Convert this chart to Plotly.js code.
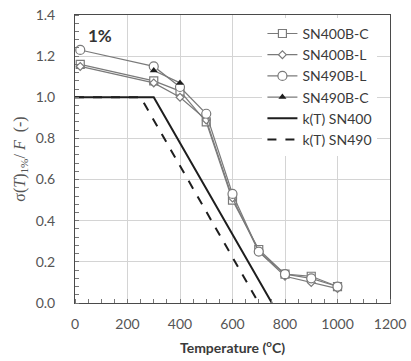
<!DOCTYPE html>
<html>
<head>
<meta charset="utf-8">
<script src="https://cdn.plot.ly/plotly-3.0.1.min.js"></script>
<style>
  html, body { margin: 0; padding: 0; background: #ffffff; }
  #chart { width: 411px; height: 361px; }
</style>
</head>
<body>
<div id="chart"></div>
<script>
// Normalised 1% proof stress versus temperature
const temps = [20, 300, 400, 500, 600, 700, 800, 900, 1000];
const sn400bC = [1.16, 1.08, 1.03, 0.88, 0.50, 0.26, 0.14, 0.13, 0.08];
const sn400bL = [1.15, 1.07, 1.00, 0.89, 0.51, 0.25, 0.13, 0.10, 0.07];
const sn490bL = [1.23, 1.15, 1.05, 0.92, 0.53, 0.25, 0.14, 0.12, 0.08];
const temps490C = [300, 400];
const sn490bC = [1.13, 1.07];

// Design reduction factor k(T)
const kTempSN400 = [0, 300, 750];
const kSN400 = [1.0, 1.0, 0.0];
const kTempSN490 = [0, 250, 700];
const kSN490 = [1.0, 1.0, 0.0];

const xTicks = [0, 200, 400, 600, 800, 1000, 1200];
const yTicks = [0.0, 0.2, 0.4, 0.6, 0.8, 1.0, 1.2, 1.4];

const grey = '#7a7a7a';
const dark = '#1e1e1e';

const traces = [
  {
    name: 'SN400B-C', x: temps, y: sn400bC, mode: 'lines+markers',
    line: {color: grey, width: 1.2},
    marker: {symbol: 'square', size: 8, color: '#ffffff', line: {color: grey, width: 1.2}}
  },
  {
    name: 'SN400B-L', x: temps, y: sn400bL, mode: 'lines+markers',
    line: {color: grey, width: 1.2},
    marker: {symbol: 'diamond', size: 6, color: '#ffffff', line: {color: grey, width: 1.2}}
  },
  {
    name: 'SN490B-L', x: temps, y: sn490bL, mode: 'lines+markers',
    line: {color: grey, width: 1.2},
    marker: {symbol: 'circle', size: 9, color: '#ffffff', line: {color: grey, width: 1.2}}
  },
  {
    name: 'SN490B-C', x: temps490C, y: sn490bC, mode: 'lines+markers',
    line: {color: grey, width: 1.2},
    marker: {symbol: 'triangle-up', size: 7, color: dark, line: {color: dark, width: 0}}
  },
  {
    name: 'k(T) SN400', x: kTempSN400, y: kSN400, mode: 'lines',
    line: {color: dark, width: 2}
  },
  {
    name: 'k(T) SN490', x: kTempSN490, y: kSN490, mode: 'lines',
    line: {color: dark, width: 2, dash: 'dash'}
  }
];

const tickFont = {family: 'Lato, "Open Sans", sans-serif', size: 14, color: '#555555'};

const layout = {
  width: 411,
  height: 361,
  margin: {l: 75, r: 21, t: 15, b: 58},
  paper_bgcolor: '#ffffff',
  plot_bgcolor: '#ffffff',
  showlegend: true,
  legend: {
    x: 0.595, y: 0.99, xanchor: 'left', yanchor: 'top',
    bgcolor: '#ffffff', borderwidth: 0,
    font: {family: 'Lato, "Open Sans", sans-serif', size: 14, color: '#3a3a3a'},
    itemwidth: 30, tracegroupgap: 0
  },
  xaxis: {
    range: [0, 1200],
    tickvals: xTicks,
    ticktext: xTicks.map(String),
    tickfont: tickFont,
    ticklabelstandoff: 8,
    showgrid: true, gridcolor: '#d4d4d4', gridwidth: 1,
    showline: true, linecolor: '#4a4a4a', linewidth: 1, mirror: true,
    ticks: '', zeroline: false,
    minor: {dtick: 50, tick0: 0, ticks: 'inside', ticklen: 4, tickcolor: '#777777', showgrid: false},
    title: {
      text: '<b>Temperature (<sup>o</sup>C)</b>',
      font: {family: 'Lato, "Open Sans", sans-serif', size: 14, color: '#3a3a3a'},
      standoff: 12
    }
  },
  yaxis: {
    range: [0, 1.4],
    tickvals: yTicks,
    ticktext: yTicks.map(v => v.toFixed(1)),
    tickfont: tickFont,
    ticklabelstandoff: 16,
    showgrid: true, gridcolor: '#d4d4d4', gridwidth: 1,
    showline: true, linecolor: '#4a4a4a', linewidth: 1, mirror: true,
    ticks: '', zeroline: false,
    minor: {dtick: 0.04, tick0: 0, ticks: 'inside', ticklen: 4, tickcolor: '#777777', showgrid: false},
    title: {
      text: 'σ(<i>T</i>)<sub>1%</sub>/ <i>F</i>  (-)',
      font: {family: '"Liberation Serif", "DejaVu Serif", serif', size: 16, color: '#555555'},
      standoff: 6
    }
  },
  annotations: [
    {
      x: 95, y: 1.30, xref: 'x', yref: 'y', showarrow: false,
      text: '<b>1%</b>',
      font: {family: 'Lato, "Open Sans", sans-serif', size: 17, color: '#333333'}
    }
  ]
};

Plotly.newPlot('chart', traces, layout, {displayModeBar: false, staticPlot: true});
</script>
</body>
</html>
